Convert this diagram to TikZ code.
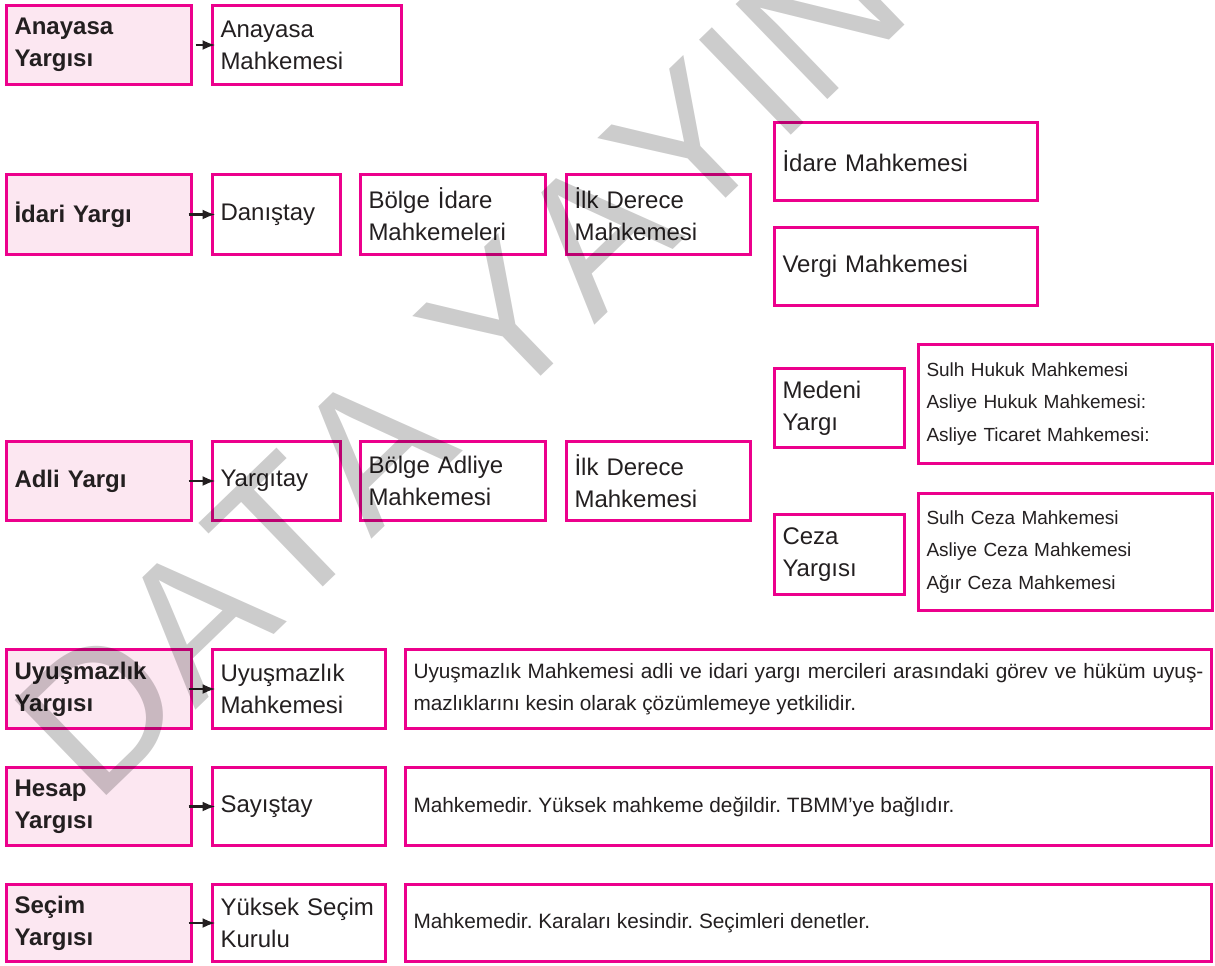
\documentclass[tikz,border=0pt]{standalone}
\usepackage{fontspec}
\setmainfont{Liberation Sans}
\newfontfamily\filigranyazi[Kerning=Off]{Liberation Sans}
\usetikzlibrary{arrows.meta}
\definecolor{pembe}{RGB}{236,0,140}
\definecolor{acikpembe}{RGB}{252,231,241}
\definecolor{koyu}{RGB}{35,31,32}
\frenchspacing

\begin{document}
\begin{tikzpicture}[x=0.5pt, y=-0.5pt,
    kutu/.style={draw=pembe, line width=1.5pt, inner xsep=4pt, inner ysep=1pt, align=left, text=koyu, font=\fontsize{12}{16}\selectfont},
    kat/.style={kutu, fill=acikpembe, text width=84.5pt, font=\fontsize{12}{16}\selectfont\bfseries},
    liste/.style={kutu, font=\fontsize{9.5}{16.25}\selectfont},
    aciklama/.style={kutu, align=justify, text width=395pt, font=\fontsize{10.4}{15.75}\selectfont},
    filigran/.style={inner sep=0pt, text=black, text opacity=0.2, font=\filigranyazi\fontsize{96}{96}\selectfont},
    ok/.style={-{Latex[length=6.5pt, width=5pt]}, line width=1.2pt, koyu, shorten <=-2.25pt, shorten >=-2.25pt}]

    \useasboundingbox (0, 0) rectangle (1215, 965);

    \node[kat, minimum height=39.5pt] (anayasa) at (99, 45) {Anayasa\\Yargısı};
    \node[kutu, text width=86.5pt, minimum height=39.5pt] (anayasaMah) at (307, 45) {Anayasa\\Mahkemesi};

    \node[kat, minimum height=40pt] (idari) at (99, 214.5) {İdari Yargı};
    \node[kutu, text width=56pt, minimum height=40pt] (danistay) at (276.5, 214.5) {Danıştay};
    \node[kutu, text width=84.5pt, minimum height=40pt] (bolgeIdare) at (453, 214.5) {Bölge İdare\\Mahkemeleri};
    \node[kutu, text width=84pt, minimum height=40pt] (ilkIdare) at (658.5, 214.5) {İlk Derece\\Mahkemesi};
    \node[kutu, text width=123.5pt, minimum height=39pt] (idareMah) at (906, 161.5) {İdare Mahkemesi};
    \node[kutu, text width=123.5pt, minimum height=39pt] (vergiMah) at (906, 266.5) {Vergi Mahkemesi};

    \node[kat, minimum height=39.5pt] (adli) at (99, 481) {Adli Yargı};
    \node[kutu, text width=56pt, minimum height=39.5pt] (yargitay) at (276.5, 481) {Yargıtay};
    \node[kutu, text width=84.5pt, minimum height=39.5pt] (bolgeAdliye) at (453, 481) {Bölge Adliye\\Mahkemesi};
    \node[kutu, text width=84pt, minimum height=39.5pt] (ilkAdli) at (658.5, 481) {İlk Derece\\Mahkemesi};
    \node[kutu, text width=57pt, minimum height=39.5pt] (medeni) at (839.5, 408) {Medeni\\Yargı};
    \node[liste, text width=139pt, minimum height=59.5pt] (hukukListe) at (1065.5, 404) {Sulh Hukuk Mahkemesi\\Asliye Hukuk Mahkemesi:\\Asliye Ticaret Mahkemesi:};
    \node[kutu, text width=57pt, minimum height=40pt] (ceza) at (839.5, 554.5) {Ceza\\Yargısı};
    \node[liste, text width=139pt, minimum height=58.5pt] (cezaListe) at (1065.5, 552) {Sulh Ceza Mahkemesi\\Asliye Ceza Mahkemesi\\Ağır Ceza Mahkemesi};

    \node[kat, minimum height=39.5pt] (uyusmazlik) at (99, 689) {Uyuşmazlık\\Yargısı};
    \node[kutu, text width=78.5pt, minimum height=39.5pt] (uyusmazlikMah) at (299, 689) {Uyuşmazlık\\Mahkemesi};
    \node[aciklama, minimum height=39.5pt] (uyusmazlikNot) at (808.5, 689) {Uyuşmazlık Mahkemesi adli ve idari yargı mercileri arasındaki görev ve hüküm uyuş-\linebreak mazlıklarını kesin olarak çözümlemeye yetkilidir.};

    \node[kat, minimum height=39pt] (hesap) at (99, 806.5) {Hesap\\Yargısı};
    \node[kutu, text width=78.5pt, minimum height=39pt] (sayistay) at (299, 806.5) {Sayıştay};
    \node[aciklama, minimum height=39pt] (sayistayNot) at (808.5, 806.5) {Mahkemedir. Yüksek mahkeme değildir. TBMM’ye bağlıdır.};

    \node[kat, minimum height=38.5pt] (secim) at (99, 923) {Seçim\\Yargısı};
    \node[kutu, text width=78.5pt, minimum height=38.5pt] (ysk) at (299, 923) {Yüksek Seçim\\Kurulu};
    \node[aciklama, minimum height=38.5pt] (yskNot) at (808.5, 923) {Mahkemedir. Karaları kesindir. Seçimleri denetler.};

    \draw[ok, shorten <=1.25pt] (anayasa) -- (anayasaMah);
    \draw[ok] (idari) -- (danistay);
    \draw[ok] (adli) -- (yargitay);
    \draw[ok] (uyusmazlik) -- (uyusmazlikMah);
    \draw[ok] (hesap) -- (sayistay);
    \draw[ok] (secim) -- (ysk);

    % filigran
    \node[filigran, rotate=44, anchor=base west] (dataYayin) at (95, 807) {DATA YAYIN};
\end{tikzpicture}
\end{document}
